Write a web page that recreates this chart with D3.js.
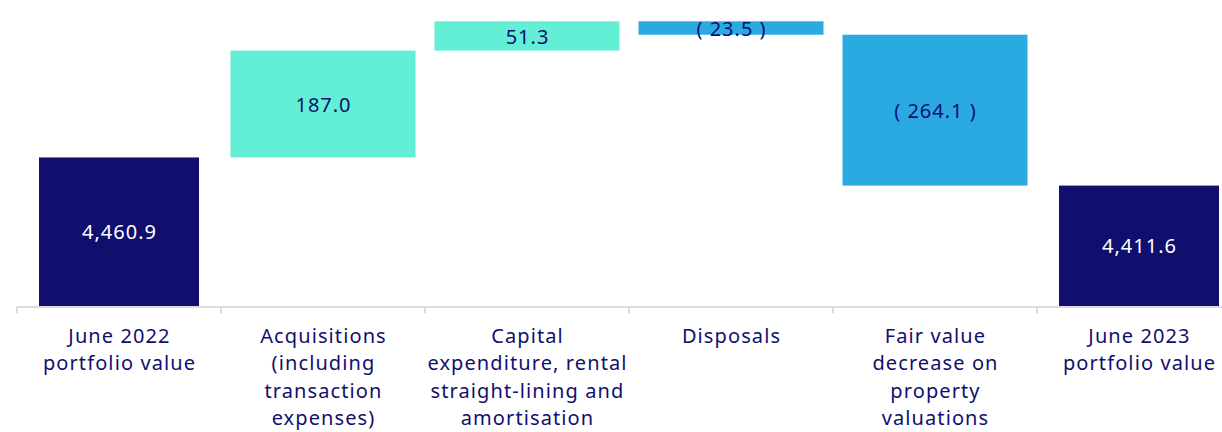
<!DOCTYPE html>
<html>
<head>
<meta charset="utf-8">
<script src="https://cdn.jsdelivr.net/npm/d3@7/dist/d3.min.js"></script>
<style>
html,body{margin:0;padding:0;background:#fff;}
svg{display:block;font-family:"Noto Sans","Open Sans",sans-serif;}
</style>
</head>
<body>
<svg id="chart" width="1222" height="432"></svg>
<script>
const categories = [
  ["June 2022", "portfolio value"],
  ["Acquisitions", "(including", "transaction", "expenses)"],
  ["Capital", "expenditure, rental", "straight-lining and", "amortisation"],
  ["Disposals"],
  ["Fair value", "decrease on", "property", "valuations"],
  ["June 2023", "portfolio value"]
];
const values = [4460.9, 187.0, 51.3, -23.5, -264.1, 4411.6];
const kinds = ["total", "delta", "delta", "delta", "delta", "total"];
const valueLabels = ["4,460.9", "187.0", "51.3", "( 23.5 )", "( 264.1 )", "4,411.6"];

const colors = {total: "#100F6E", up: "#62EFD6", down: "#2BAAE2"};
const navy = "#100F6E";

let running = 0;
const bars = values.map((v, i) => {
  let start, end;
  if (kinds[i] === "total") { start = null; end = v; running = v; }
  else { start = running; end = running + v; running = end; }
  return {i, v, kind: kinds[i], start, end, label: valueLabels[i], cat: categories[i]};
});

const svg = d3.select("#chart");
const x = d3.scaleBand().domain(d3.range(categories.length)).range([17, 17 + 204 * 6]).padding(0);
const y = d3.scaleLinear().domain([4200, 4699.2]).range([306.5, 21.3]);
const bw = x.bandwidth();

const barW = d => d.kind === "total" ? 160 : 185;

const g = svg.append("g");
g.selectAll("rect.bar").data(bars).enter().append("rect")
  .attr("class", "bar")
  .attr("x", d => x(d.i) + (bw - barW(d)) / 2)
  .attr("width", barW)
  .attr("y", d => d.kind === "total" ? y(d.end) : y(Math.max(d.start, d.end)))
  .attr("height", d => d.kind === "total" ? y.range()[0] - y(d.end) : Math.abs(y(d.start) - y(d.end)))
  .attr("fill", d => d.kind === "total" ? colors.total : (d.v >= 0 ? colors.up : colors.down));

g.selectAll("text.val").data(bars).enter().append("text")
  .attr("class", "val")
  .attr("x", d => x(d.i) + bw / 2 + 0.5)
  .attr("y", d => {
    const a = d.kind === "total" ? y.range()[0] : y(d.start);
    const b = y(d.end);
    return (a + b) / 2 + (d.kind === "total" ? 0 : 1);
  })
  .attr("dy", "0.36em")
  .attr("text-anchor", "middle")
  .attr("font-size", 20)
  .attr("letter-spacing", 1)
  .attr("fill", d => d.kind === "total" ? "#ffffff" : navy)
  .text(d => d.label);

const axisY = 306.5;
const axis = d3.axisBottom(x).tickSize(0).tickFormat("");
const ag = svg.append("g").attr("transform", `translate(0,${axisY})`).call(axis);
ag.select(".domain").attr("stroke", "#D9DDE3").attr("stroke-width", 2);
svg.append("g").selectAll("line").data(d3.range(categories.length + 1)).enter().append("line")
  .attr("x1", i => 17 + 204 * i).attr("x2", i => 17 + 204 * i)
  .attr("y1", axisY).attr("y2", axisY + 7)
  .attr("stroke", "#D9DDE3").attr("stroke-width", 2);

const lab = svg.append("g").selectAll("text").data(bars).enter().append("text")
  .attr("text-anchor", "middle")
  .attr("font-size", 20)
  .attr("letter-spacing", 1.1)
  .attr("fill", navy)
  .attr("x", d => x(d.i) + bw / 2)
  .attr("y", 342.5);
lab.selectAll("tspan").data(d => d.cat.map(t => ({t, cx: x(d.i) + bw / 2 + 0.5}))).enter().append("tspan")
  .attr("x", d => d.cx)
  .attr("dy", (d, k) => k === 0 ? 0 : 27.6)
  .text(d => d.t);
</script>
</body>
</html>
